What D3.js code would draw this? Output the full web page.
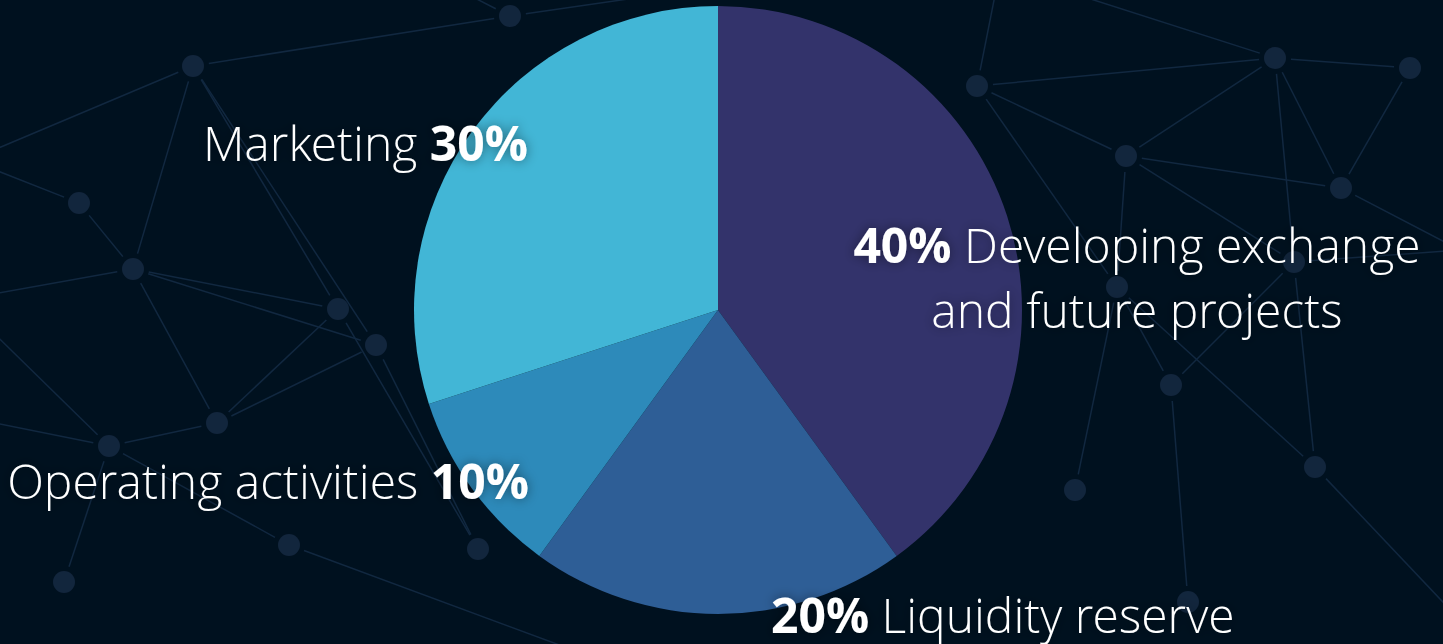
<!DOCTYPE html>
<html>
<head>
    <meta charset="utf-8">
    <title>Token allocation</title>
    <script src="https://d3js.org/d3.v7.min.js"></script>
    <style>
        html, body { margin: 0; padding: 0; background: #00111f; overflow: hidden; }
        svg { display: block; }
        text { font-family: "Open Sans", sans-serif; fill: #fff; }
        .light { font-family: "Open Sans Light", "Open Sans", sans-serif; font-weight: 300; }
        .bold { font-family: "Open Sans", sans-serif; font-weight: 700; }
    </style>
</head>
<body>
<div id="chart"></div>
<script type="text/javascript">

	// chart data
	var categories = ["Developing exchange and future projects", "Liquidity reserve", "Operating activities", "Marketing"];
	var shares = [40, 20, 10, 30];
	var colors = ["#33336b", "#2e5e96", "#2d8aba", "#42b6d6"];

	// background network (decoration only)
	var bgNodes = [
		[193,66],[79,203],[133,269],[338,309],[376,345],[109,446],[217,423],[289,545],[64,582],
		[478,549],[510,16],[977,86],[1126,156],[1275,58],[1410,68],[1341,188],[1294,262],
		[1117,287],[1171,385],[1075,490],[1315,467],[1188,602],[-30,160],[-20,420],[-40,300],
		[760,-20],[1460,250],[1460,620],[600,660],[1000,-30],[420,-30]
	];
	var bgEdges = [
		[0,22],[0,10],[0,2],[0,4],[0,3],[1,22],[1,2],[2,4],[2,6],[2,24],[2,3],[5,6],[5,23],[5,24],
		[6,3],[6,4],[5,8],[5,7],[4,9],[3,9],[10,25],[10,30],[11,12],[11,13],[11,29],[11,17],
		[12,13],[12,17],[12,16],[13,14],[13,16],[13,15],[13,29],[14,15],[15,26],[16,18],[16,20],
		[17,18],[17,19],[18,21],[16,26],[20,27],[7,28],[12,15],[17,20]
	];

	var width = 1443, height = 644;
	var cx = 718, cy = 310, radius = 304;

	var svg = d3.select("#chart").append("svg")
		.attr("width", width)
		.attr("height", height);

	svg.append("rect").attr("width", width).attr("height", height).attr("fill", "#00111f");

	// text glow
	var defs = svg.append("defs");
	var f = defs.append("filter").attr("id", "glow")
		.attr("x", "-10%").attr("y", "-40%").attr("width", "120%").attr("height", "180%");
	f.append("feGaussianBlur").attr("in", "SourceAlpha").attr("stdDeviation", 6).attr("result", "b");
	f.append("feFlood").attr("flood-color", "#000").attr("flood-opacity", 0.45);
	f.append("feComposite").attr("in2", "b").attr("operator", "in");
	var m = f.append("feMerge");
	m.append("feMergeNode");
	m.append("feMergeNode").attr("in", "SourceGraphic");

	// draw network
	var net = svg.append("g");
	net.selectAll("line")
		.data(bgEdges)
		.enter()
		.append("line")
		.each(function(e){
			var a = bgNodes[e[0]], b = bgNodes[e[1]];
			var dx = b[0]-a[0], dy = b[1]-a[1], len = Math.sqrt(dx*dx+dy*dy);
			var g = 16 / len;
			d3.select(this)
				.attr("x1", a[0] + dx*g).attr("y1", a[1] + dy*g)
				.attr("x2", b[0] - dx*g).attr("y2", b[1] - dy*g);
		})
		.attr("stroke", "#112840")
		.attr("stroke-width", 1.5);
	net.selectAll("circle")
		.data(bgNodes)
		.enter()
		.append("circle")
		.attr("cx", function(d){ return d[0]; })
		.attr("cy", function(d){ return d[1]; })
		.attr("r", 11)
		.attr("fill", "#12263d");

	// pie
	var pie = d3.pie().sort(null).value(function(d){ return d; });
	var arc = d3.arc().innerRadius(0).outerRadius(radius);

	svg.append("g")
		.attr("transform", "translate(" + cx + "," + cy + ")")
		.selectAll("path")
		.data(pie(shares))
		.enter()
		.append("path")
		.attr("d", arc)
		.attr("fill", function(d, i){ return colors[i]; });

	// labels
	var fs = 48;
	var labelPos = [
		{x: 1137, y: 263, anchor: "middle", pctFirst: true, lines: ["Developing exchange", "and future projects"]},
		{x: 771, y: 633, anchor: "start", pctFirst: true},
		{x: 529, y: 499, anchor: "end", pctFirst: false},
		{x: 528, y: 161, anchor: "end", pctFirst: false}
	];

	var labels = svg.append("g").attr("filter", "url(#glow)");
	categories.forEach(function(name, i){
		var p = labelPos[i];
		var t = labels.append("text")
			.attr("x", p.x).attr("y", p.y)
			.attr("text-anchor", p.anchor)
			.style("font-size", fs + "px");
		var lines = p.lines || [name];
		if (p.pctFirst) {
			t.append("tspan").attr("class", "bold").text(shares[i] + "% ");
			t.append("tspan").attr("class", "light").text(lines[0]);
		} else {
			t.append("tspan").attr("class", "light").text(lines[0] + " ");
			t.append("tspan").attr("class", "bold").text(shares[i] + "%");
		}
		for (var k = 1; k < lines.length; k++) {
			labels.append("text")
				.attr("class", "light")
				.attr("x", p.x).attr("y", p.y + 65*k)
				.attr("text-anchor", p.anchor)
				.style("font-size", fs + "px")
				.text(lines[k]);
		}
	});

</script>
</body>
</html>
